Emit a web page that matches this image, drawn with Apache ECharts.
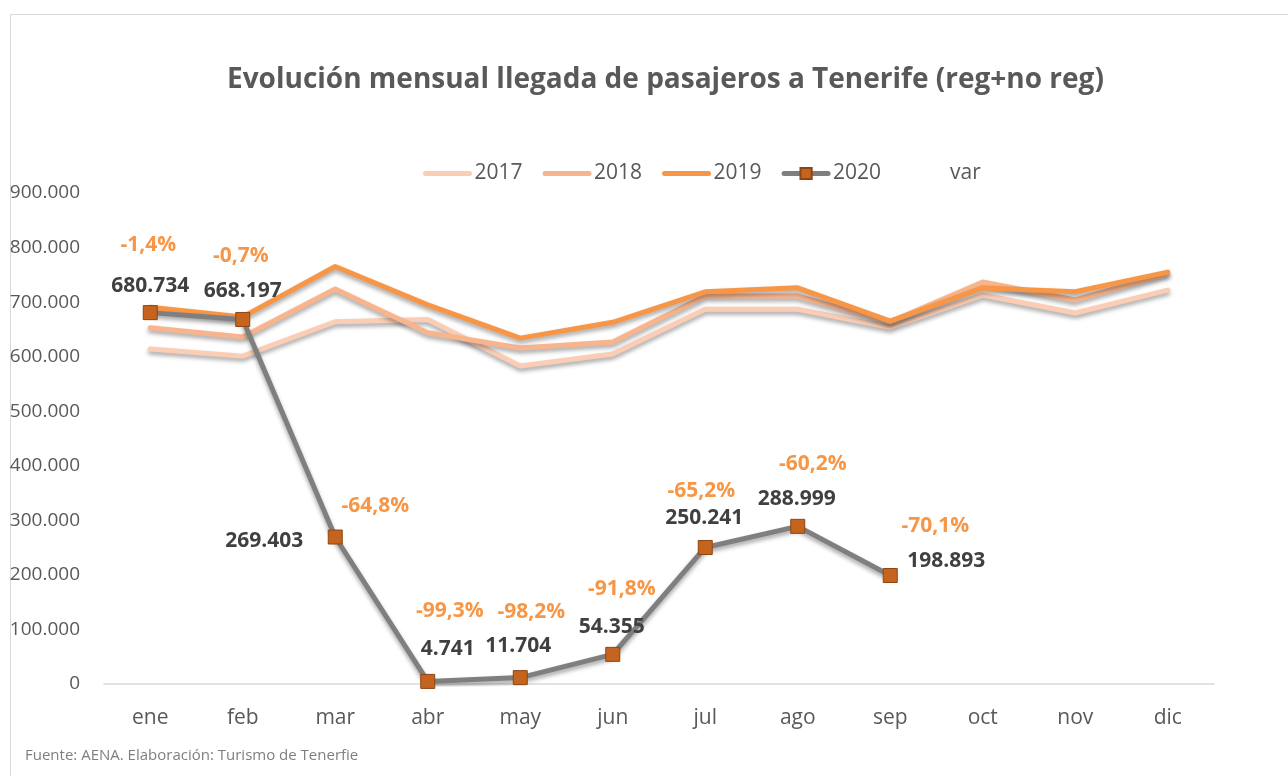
<!DOCTYPE html>
<html>
<head>
<meta charset="utf-8">
<script src="https://cdn.jsdelivr.net/npm/echarts@6/dist/echarts.min.js"></script>
<style>
  html, body { margin: 0; padding: 0; background: #fff; }
  #chart { width: 1288px; height: 776px; }
</style>
</head>
<body>
<div id="chart"></div>
<script>
// datos
const months = ['ene', 'feb', 'mar', 'abr', 'may', 'jun', 'jul', 'ago', 'sep', 'oct', 'nov', 'dic'];
const values2017 = [614000, 601000, 664000, 668000, 583000, 605000, 687000, 687000, 654000, 713000, 680000, 722000];
const values2018 = [653000, 636000, 724000, 644000, 616000, 627000, 711000, 711000, 664000, 737000, 704000, 752000];
const values2019 = [690400, 672900, 765300, 695000, 634000, 663000, 718965, 726100, 665200, 726000, 719000, 755000];
const values2020 = [680734, 668197, 269403, 4741, 11704, 54355, 250241, 288999, 198893, null, null, null];
const varPct = [-1.4, -0.7, -64.8, -99.3, -98.2, -91.8, -65.2, -60.2, -70.1, null, null, null];
const yTicks = [0, 100000, 200000, 300000, 400000, 500000, 600000, 700000, 800000, 900000];

// desplazamientos de etiquetas (solo maquetacion)
const valueLabelOffsets = [[0, -27], [0, -28], [-71, 4], [20, -32], [-2, -32], [-1, -27], [-1, -29], [-1, -27], [56, -14]];
const varLabelOffsets = [[-2, -68], [-2, -63], [40, -31], [22, -70], [11, -66], [9, -65], [-4, -56], [15, -62], [45, -49]];

const FONT = '"Open Sans", "Liberation Sans", sans-serif';
const fmtThousands = v => String(Math.round(v)).replace(/\B(?=(\d{3})+(?!\d))/g, '.');
const fmtPct = v => (v.toFixed(1) + '%').replace('.', ',');

const shadow = { shadowColor: 'rgba(0,0,0,0.35)', shadowBlur: 4, shadowOffsetY: 3 };

function yearLine(name, data, color) {
    return {
        name: name,
        type: 'line',
        data: data,
        symbol: 'none',
        itemStyle: { color: color },
        lineStyle: Object.assign({ color: color, width: 5, cap: 'round', join: 'round' }, shadow),
        z: 2
    };
}

const chart = echarts.init(document.getElementById('chart'), null, { renderer: 'canvas' });

const s2019 = yearLine('2019', values2019.map((v, i) => i === 6 ? {
    value: v,
    label: {
        show: true, position: 'inside', offset: [4, -25],
        formatter: '2019; jul; ' + fmtThousands(v),
        color: '#404040', fontSize: 15, fontFamily: FONT
    }
} : v), '#F79646');

const legendLine = { width: 5, cap: 'round', shadowBlur: 0, shadowOffsetY: 0 };

const option = {
    animation: false,
    backgroundColor: '#fff',
    title: {
        text: 'Evolución mensual llegada de pasajeros a Tenerife (reg+no reg)',
        left: 222, top: 61,
        textStyle: { color: '#595959', fontSize: 28, fontWeight: 'bold', fontFamily: FONT }
    },
    legend: {
        left: 418, top: 158,
        itemWidth: 44, itemHeight: 14, itemGap: 20,
        textStyle: { color: '#595959', fontSize: 21, fontFamily: FONT },
        data: [
            { name: '2017', itemStyle: { opacity: 0 }, lineStyle: legendLine },
            { name: '2018', itemStyle: { opacity: 0 }, lineStyle: legendLine },
            { name: '2019', itemStyle: { opacity: 0 }, lineStyle: legendLine },
            { name: '2020', lineStyle: legendLine },
            { name: 'var' }
        ]
    },
    grid: { left: 104, right: 74, top: 193, bottom: 92 },
    xAxis: {
        type: 'category',
        data: months,
        axisLine: { show: true, lineStyle: { color: '#D9D9D9', width: 1.5 } },
        axisTick: { show: false },
        axisLabel: { color: '#595959', fontSize: 21, margin: 24, fontFamily: FONT }
    },
    yAxis: {
        type: 'value',
        min: yTicks[0], max: yTicks[yTicks.length - 1], interval: yTicks[1] - yTicks[0],
        axisLine: { show: false },
        axisTick: { show: false },
        splitLine: { show: false },
        axisLabel: { color: '#595959', fontSize: 19, margin: 24, fontFamily: FONT, formatter: fmtThousands }
    },
    graphic: [
        { type: 'rect', left: 8, top: 12, shape: { width: 1300, height: 800 }, style: { fill: 'none', stroke: '#D9D9D9', lineWidth: 1 }, silent: true },
        { type: 'text', left: 25, top: 748, style: { text: 'Fuente: AENA. Elaboración: Turismo de Tenerfie', fill: '#7F7F7F', fontSize: 15, fontFamily: FONT } }
    ],
    series: [
        yearLine('2017', values2017, '#FBCDB4'),
        yearLine('2018', values2018, '#F8B48C'),
        s2019,
        {
            name: '2020',
            type: 'line',
            data: values2020.map((v, i) => v === null ? null : {
                value: v,
                label: { offset: valueLabelOffsets[i] }
            }),
            symbol: 'rect',
            symbolSize: 14,
            itemStyle: { color: '#C4641F', borderColor: '#8E4511', borderWidth: 1 },
            lineStyle: Object.assign({ color: '#7F7F7F', width: 5, join: 'round' }, shadow),
            label: {
                show: true, position: 'inside',
                color: '#404040', fontSize: 21, fontWeight: 'bold', fontFamily: FONT,
                formatter: p => fmtThousands(p.value)
            },
            z: 4
        },
        {
            name: 'var',
            type: 'line',
            data: values2020.map((v, i) => v === null ? null : {
                value: v,
                label: { offset: varLabelOffsets[i], formatter: fmtPct(varPct[i]) }
            }),
            symbol: 'circle',
            symbolSize: 1,
            itemStyle: { color: 'rgba(0,0,0,0)' },
            lineStyle: { width: 0, opacity: 0 },
            label: {
                show: true, position: 'inside',
                color: '#F79646', fontSize: 21, fontWeight: 'bold', fontFamily: FONT
            },
            z: 5
        }
    ]
};

chart.setOption(option);
</script>
</body>
</html>
